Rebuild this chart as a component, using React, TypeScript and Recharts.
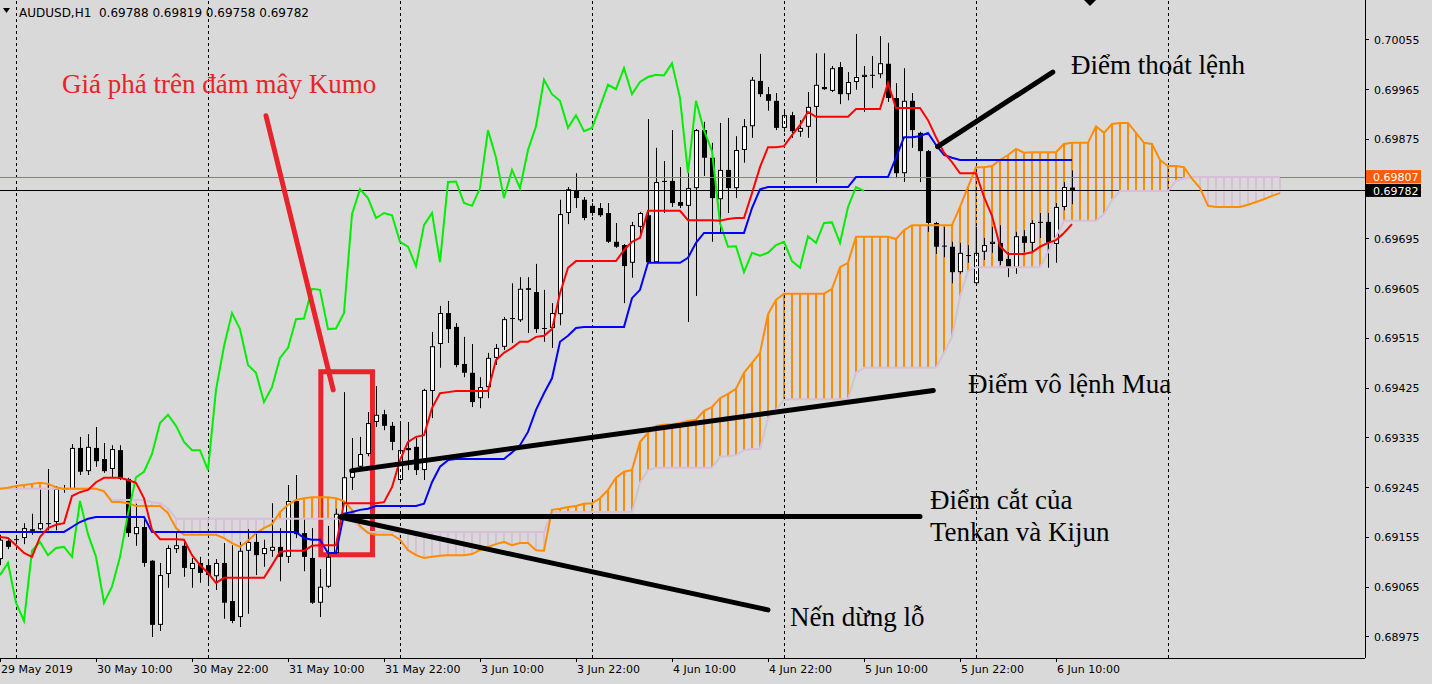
import React from "react";
import {
  Bar,
  ComposedChart,
  Line,
  ReferenceArea,
  ReferenceLine,
  XAxis,
  YAxis,
} from "recharts";

// AUDUSD H1 with Ichimoku (MT4 look). Candles + tenkan/kijun/chikou + hatched kumo,
// plus the hand-drawn trade annotations.

const opens = [
  0.69116, 0.69149, 0.69152, 0.69154, 0.6917, 0.6917, 0.69181, 0.69183, 0.69243, 0.69243,
  0.69317, 0.69275, 0.69317, 0.69297, 0.69279, 0.69313, 0.69261, 0.69161, 0.69174, 0.69113,
  0.68997, 0.69089, 0.69134, 0.6914, 0.69098, 0.69109, 0.69105, 0.69085, 0.69109, 0.6904,
  0.69011, 0.69131, 0.69147, 0.69125, 0.69131, 0.69138, 0.6912, 0.69221, 0.69163, 0.69118,
  0.69037, 0.69066, 0.69127, 0.69198, 0.69263, 0.69283, 0.69306, 0.69364, 0.69378, 0.69357,
  0.69259, 0.69317, 0.69319, 0.69277, 0.6942, 0.69505, 0.69561, 0.69536, 0.69469, 0.69453,
  0.69407, 0.69427, 0.6948, 0.695, 0.69552, 0.69548, 0.69606, 0.69599, 0.69534, 0.69534,
  0.69559, 0.69742, 0.69782, 0.69766, 0.69755, 0.69751, 0.69742, 0.6969, 0.69684, 0.69652,
  0.69717, 0.69738, 0.69653, 0.698, 0.698, 0.69762, 0.69755, 0.69787, 0.69892, 0.69842,
  0.69767, 0.6982, 0.69787, 0.69856, 0.69899, 0.69981, 0.69957, 0.69945, 0.69896, 0.69919,
  0.69889, 0.69898, 0.69934, 0.6997, 0.69963, 0.70006, 0.69957, 0.69979, 0.69988, 0.69992,
  0.69993, 0.70012, 0.6995, 0.69814, 0.69945, 0.69887, 0.69854, 0.69724, 0.69683, 0.69681,
  0.69635, 0.69666, 0.69615, 0.69672, 0.69686, 0.69688, 0.69659, 0.69643, 0.697, 0.69688,
  0.69726, 0.69726, 0.69686, 0.69753, 0.69788,
];
const highs = [
  0.6916, 0.69154, 0.69158, 0.69181, 0.69198, 0.69243, 0.69279, 0.69248, 0.6925, 0.69324,
  0.69337, 0.69342, 0.69355, 0.69326, 0.69322, 0.69322, 0.69263, 0.69216, 0.69187, 0.69114,
  0.69109, 0.69141, 0.69165, 0.69151, 0.69118, 0.6912, 0.69114, 0.69116, 0.69145, 0.69141,
  0.69147, 0.6917, 0.69165, 0.69151, 0.69217, 0.69172, 0.6925, 0.69268, 0.69189, 0.69172,
  0.69098, 0.69176, 0.69207, 0.69418, 0.69335, 0.69337, 0.69382, 0.69429, 0.69386, 0.69364,
  0.69364, 0.69364, 0.69335, 0.69424, 0.69527, 0.69574, 0.69583, 0.69543, 0.69518, 0.69505,
  0.69445, 0.69489, 0.69505, 0.69554, 0.69615, 0.69626, 0.69626, 0.6965, 0.69603, 0.69579,
  0.69766, 0.69789, 0.69814, 0.69771, 0.6976, 0.6976, 0.6976, 0.69724, 0.69686, 0.69726,
  0.69744, 0.69912, 0.6986, 0.69836, 0.69892, 0.69825, 0.6982, 0.69894, 0.69907, 0.69869,
  0.69905, 0.69914, 0.69881, 0.69912, 0.69988, 0.7003, 0.6997, 0.69959, 0.69928, 0.69925,
  0.6991, 0.69961, 0.70031, 0.70031, 0.70008, 0.70015, 0.69997, 0.70066, 0.70008, 0.70026,
  0.70062, 0.7005, 0.69977, 0.70004, 0.69959, 0.69889, 0.69856, 0.69726, 0.69717, 0.6969,
  0.69688, 0.69684, 0.69717, 0.69697, 0.69717, 0.6972, 0.69671, 0.69708, 0.69711, 0.69729,
  0.69742, 0.69742, 0.6976, 0.69798, 0.69819,
];
const lows = [
  0.69105, 0.69134, 0.69147, 0.69143, 0.6916, 0.69168, 0.69168, 0.69168, 0.69236, 0.69241,
  0.69268, 0.69268, 0.69283, 0.69272, 0.69264, 0.69259, 0.69156, 0.6914, 0.69102, 0.68975,
  0.68986, 0.69064, 0.69127, 0.69084, 0.69064, 0.69073, 0.69071, 0.6906, 0.69008, 0.69,
  0.68993, 0.69017, 0.69087, 0.69102, 0.6912, 0.69076, 0.69109, 0.69154, 0.69094, 0.69035,
  0.69011, 0.69064, 0.69125, 0.69192, 0.69241, 0.69277, 0.69302, 0.69355, 0.69349, 0.69313,
  0.69254, 0.69277, 0.69268, 0.69259, 0.69371, 0.69462, 0.69507, 0.69463, 0.69445, 0.69391,
  0.69389, 0.69407, 0.69467, 0.69494, 0.69507, 0.69545, 0.69525, 0.69525, 0.69509, 0.69498,
  0.69539, 0.69722, 0.69751, 0.69729, 0.69737, 0.69735, 0.69688, 0.69679, 0.69579, 0.69625,
  0.69699, 0.69652, 0.69652, 0.69742, 0.69753, 0.69751, 0.69545, 0.69592, 0.69809, 0.6969,
  0.69706, 0.69742, 0.69769, 0.69833, 0.69878, 0.69952, 0.69927, 0.69892, 0.69889, 0.69878,
  0.6988, 0.69878, 0.69796, 0.69965, 0.69961, 0.69939, 0.69946, 0.69965, 0.69925, 0.69968,
  0.69986, 0.69943, 0.69805, 0.69798, 0.6986, 0.69798, 0.69708, 0.69668, 0.69662, 0.69615,
  0.69632, 0.69652, 0.69612, 0.69657, 0.6967, 0.69648, 0.69626, 0.69632, 0.69671, 0.69671,
  0.69697, 0.69643, 0.69652, 0.69747, 0.69758,
];
const closes = [
  0.69151, 0.69138, 0.69151, 0.69172, 0.69167, 0.69181, 0.6918, 0.69243, 0.69242, 0.69317,
  0.69274, 0.69319, 0.69293, 0.69275, 0.69315, 0.69261, 0.69163, 0.69174, 0.69109, 0.68997,
  0.69087, 0.69136, 0.69141, 0.691, 0.69109, 0.69091, 0.69087, 0.69109, 0.69037, 0.69004,
  0.69131, 0.69147, 0.69123, 0.69136, 0.69138, 0.6912, 0.69221, 0.69161, 0.6912, 0.69037,
  0.69066, 0.6912, 0.69198, 0.69264, 0.69274, 0.69306, 0.69362, 0.69377, 0.69357, 0.69328,
  0.69313, 0.69313, 0.69277, 0.69422, 0.69501, 0.69561, 0.69532, 0.69467, 0.69453, 0.694,
  0.69427, 0.6948, 0.69498, 0.6955, 0.69551, 0.69605, 0.69603, 0.69532, 0.69533, 0.69561,
  0.6974, 0.69785, 0.69769, 0.69733, 0.69742, 0.69738, 0.6969, 0.69681, 0.69646, 0.6972,
  0.69742, 0.69653, 0.69798, 0.69799, 0.6976, 0.69755, 0.69787, 0.69892, 0.69842, 0.69769,
  0.6982, 0.69787, 0.69856, 0.69899, 0.69983, 0.69957, 0.69945, 0.69896, 0.69919, 0.6989,
  0.69896, 0.69934, 0.69974, 0.69966, 0.70004, 0.69957, 0.69979, 0.69988, 0.69992, 0.69991,
  0.70013, 0.6995, 0.69814, 0.69945, 0.69892, 0.69854, 0.69724, 0.69681, 0.69682, 0.69635,
  0.6967, 0.69665, 0.6967, 0.69684, 0.6969, 0.69655, 0.69643, 0.697, 0.69688, 0.69724,
  0.69725, 0.69688, 0.69753, 0.69789, 0.69782,
];

const tenkan = [
  0.69156, 0.69154, 0.69141, 0.69127, 0.6912, 0.69156, 0.69172, 0.69178, 0.69181, 0.6923,
  0.69237, 0.69241, 0.69255, 0.69263, 0.69263, 0.69263, 0.69259, 0.69254, 0.69226, 0.69169,
  0.69152, 0.69152, 0.69152, 0.69151, 0.69123, 0.69105, 0.69091, 0.69073, 0.69082, 0.69082,
  0.69082, 0.69082, 0.69082, 0.69082, 0.69105, 0.69129, 0.69131, 0.69131, 0.69131, 0.6914,
  0.69141, 0.69141, 0.69141, 0.69217, 0.69217, 0.69217, 0.69217, 0.69217, 0.69219, 0.69246,
  0.69295, 0.69328, 0.69337, 0.6934, 0.69389, 0.69416, 0.69418, 0.6942, 0.6942, 0.6942,
  0.6942, 0.6942, 0.69476, 0.69489, 0.69498, 0.69509, 0.69509, 0.69518, 0.6952, 0.69532,
  0.69597, 0.69643, 0.69655, 0.69655, 0.69655, 0.69655, 0.69655, 0.69655, 0.69675, 0.6969,
  0.69697, 0.69746, 0.69746, 0.69746, 0.69746, 0.69746, 0.69729, 0.69729, 0.69729, 0.69729,
  0.69728, 0.69731, 0.69733, 0.69733, 0.69778, 0.69825, 0.69861, 0.69861, 0.69863, 0.69883,
  0.69901, 0.69925, 0.69916, 0.69916, 0.69916, 0.69916, 0.69916, 0.6993, 0.6993, 0.6993,
  0.6993, 0.69977, 0.69932, 0.69932, 0.69932, 0.69932, 0.6991, 0.69879, 0.69851, 0.69834,
  0.69814, 0.69814, 0.69814, 0.69771, 0.69737, 0.69682, 0.69668, 0.69668, 0.69668, 0.69671,
  0.69681, 0.69688, 0.69693, 0.69706, 0.69722,
];
const kijun = [
  0.69165, 0.69165, 0.69165, 0.69165, 0.69165, 0.69165, 0.69165, 0.69165, 0.69165, 0.69174,
  0.69183, 0.69189, 0.69192, 0.69192, 0.69192, 0.69192, 0.69192, 0.69192, 0.69192, 0.69165,
  0.69165, 0.69165, 0.69165, 0.69165, 0.69165, 0.69165, 0.69165, 0.69165, 0.69165, 0.69165,
  0.69165, 0.69165, 0.69165, 0.69165, 0.69165, 0.69165, 0.69165, 0.69165, 0.69154, 0.69151,
  0.69151, 0.69127, 0.69127, 0.69198, 0.69201, 0.69205, 0.69207, 0.69212, 0.69212, 0.69212,
  0.69212, 0.69212, 0.69212, 0.69216, 0.69255, 0.69283, 0.69295, 0.69297, 0.69297, 0.69297,
  0.69297, 0.69297, 0.69297, 0.69297, 0.69309, 0.69322, 0.69346, 0.69386, 0.69416, 0.69443,
  0.69509, 0.6952, 0.69534, 0.69536, 0.69536, 0.69536, 0.69536, 0.69536, 0.69536, 0.69588,
  0.69603, 0.69652, 0.69652, 0.69652, 0.69652, 0.69652, 0.69661, 0.69688, 0.69706, 0.69706,
  0.69706, 0.69706, 0.69706, 0.69706, 0.69751, 0.69785, 0.69789, 0.69789, 0.69789, 0.69789,
  0.69789, 0.69789, 0.69789, 0.69789, 0.69789, 0.69789, 0.69789, 0.69807, 0.69807, 0.69807,
  0.69807, 0.69807, 0.69842, 0.69879, 0.69879, 0.69881, 0.69887, 0.69865, 0.69847, 0.69842,
  0.69838, 0.69838, 0.69838, 0.69838, 0.69838, 0.69838, 0.69838, 0.69838, 0.69838, 0.69838,
  0.69838, 0.69838, 0.69838, 0.69838, 0.69838,
];
// chikou: drawn 26 bars back
const chikou = [
  0.69087, 0.69109, 0.69037, 0.69004, 0.69131, 0.69147, 0.69123, 0.69136, 0.69138, 0.6912,
  0.69221, 0.69161, 0.6912, 0.69037, 0.69066, 0.6912, 0.69198, 0.69264, 0.69274, 0.69306,
  0.69362, 0.69377, 0.69357, 0.69328, 0.69313, 0.69313, 0.69277, 0.69422, 0.69501, 0.69561,
  0.69532, 0.69467, 0.69453, 0.694, 0.69427, 0.6948, 0.69498, 0.6955, 0.69551, 0.69605,
  0.69603, 0.69532, 0.69533, 0.69561, 0.6974, 0.69785, 0.69769, 0.69733, 0.69742, 0.69738,
  0.6969, 0.69681, 0.69646, 0.6972, 0.69742, 0.69653, 0.69798, 0.69799, 0.6976, 0.69755,
  0.69787, 0.69892, 0.69842, 0.69769, 0.6982, 0.69787, 0.69856, 0.69899, 0.69983, 0.69957,
  0.69945, 0.69896, 0.69919, 0.6989, 0.69896, 0.69934, 0.69974, 0.69966, 0.70004, 0.69957,
  0.69979, 0.69988, 0.69992, 0.69991, 0.70013, 0.6995, 0.69814, 0.69945, 0.69892, 0.69854,
  0.69724, 0.69681, 0.69682, 0.69635, 0.6967, 0.69665, 0.6967, 0.69684, 0.6969, 0.69655,
  0.69643, 0.697, 0.69688, 0.69724, 0.69725, 0.69688, 0.69753, 0.69789, 0.69782,
];
// senkou spans: drawn 26 bars ahead, so they run past the last candle
const spanA = [
  0.69243, 0.69245, 0.69248, 0.6925, 0.69252, 0.69254, 0.69252, 0.69246, 0.69243, 0.69243,
  0.69243, 0.69243, 0.69243, 0.69239, 0.69219, 0.69219, 0.69217, 0.69212, 0.69212, 0.69212,
  0.69212, 0.69199, 0.69172, 0.6916, 0.6916, 0.6916, 0.6916, 0.6916, 0.69154, 0.69145,
  0.69138, 0.69149, 0.69163, 0.69172, 0.69179, 0.69201, 0.69214, 0.69223, 0.69226, 0.69228,
  0.69228, 0.69228, 0.69226, 0.69221, 0.69205, 0.69176, 0.69163, 0.6916, 0.6916, 0.6916,
  0.69151, 0.69132, 0.69123, 0.69118, 0.6912, 0.69122, 0.69123, 0.69123, 0.69123, 0.69125,
  0.69132, 0.69138, 0.69143, 0.69147, 0.69141, 0.69145, 0.69145, 0.69132, 0.69131, 0.69205,
  0.69207, 0.6921, 0.69212, 0.69216, 0.69217, 0.69226, 0.69241, 0.69263, 0.69274, 0.69277,
  0.69328, 0.69344, 0.69357, 0.69359, 0.6936, 0.69362, 0.69366, 0.69368, 0.69384, 0.69391,
  0.69407, 0.69415, 0.69424, 0.69453, 0.69471, 0.69489, 0.69559, 0.69585, 0.69596, 0.69596,
  0.69596, 0.69596, 0.69596, 0.69596, 0.69605, 0.69644, 0.69652, 0.69699, 0.69699, 0.69699,
  0.69699, 0.69699, 0.69695, 0.69711, 0.6972, 0.6972, 0.6972, 0.6972, 0.6972, 0.6972,
  0.69753, 0.69789, 0.69825, 0.69825, 0.69827, 0.69838, 0.69847, 0.69858, 0.69851, 0.69852,
  0.69852, 0.69852, 0.69852, 0.69867, 0.69869, 0.69869, 0.69869, 0.69899, 0.69887, 0.69903,
  0.69905, 0.69905, 0.69887, 0.69869, 0.69867, 0.69838, 0.69827, 0.69827, 0.69825, 0.69804,
  0.69787, 0.69755, 0.69753, 0.69753, 0.69753, 0.69753, 0.69757, 0.69762, 0.69767, 0.69773,
  0.69778,
];
const spanB = [
  0.69243, 0.69243, 0.69243, 0.69243, 0.69243, 0.69243, 0.69243, 0.69243, 0.69243, 0.69243,
  0.69243, 0.69243, 0.69243, 0.69237, 0.69223, 0.69223, 0.69223, 0.69223, 0.69223, 0.69219,
  0.69217, 0.69208, 0.69189, 0.69189, 0.69189, 0.69189, 0.69189, 0.69189, 0.69189, 0.69189,
  0.69189, 0.69189, 0.69189, 0.69189, 0.69189, 0.69189, 0.69189, 0.69189, 0.69189, 0.69189,
  0.69189, 0.69189, 0.69189, 0.69189, 0.69189, 0.69172, 0.69165, 0.69165, 0.69165, 0.69165,
  0.69165, 0.69165, 0.69165, 0.69165, 0.69165, 0.69165, 0.69165, 0.69165, 0.69165, 0.69165,
  0.69165, 0.69165, 0.69165, 0.69165, 0.69165, 0.69165, 0.69165, 0.69165, 0.69165, 0.69201,
  0.69201, 0.69201, 0.69201, 0.69201, 0.69201, 0.69201, 0.69201, 0.69201, 0.69201, 0.69201,
  0.69254, 0.69277, 0.69281, 0.69281, 0.69281, 0.69281, 0.69281, 0.69281, 0.69281, 0.69281,
  0.69301, 0.69302, 0.69304, 0.69313, 0.69315, 0.69315, 0.69371, 0.69386, 0.69404, 0.69405,
  0.69405, 0.69405, 0.69405, 0.69405, 0.69405, 0.69405, 0.69405, 0.69453, 0.69462, 0.69462,
  0.69462, 0.69462, 0.69462, 0.69462, 0.69462, 0.69462, 0.69462, 0.69462, 0.69489, 0.69518,
  0.6959, 0.69637, 0.69644, 0.69644, 0.69644, 0.69644, 0.69644, 0.69644, 0.69644, 0.69644,
  0.69644, 0.69671, 0.69699, 0.69728, 0.69728, 0.69728, 0.69728, 0.69728, 0.6974, 0.69766,
  0.69782, 0.69782, 0.69782, 0.69782, 0.69782, 0.69782, 0.69782, 0.698, 0.69805, 0.69807,
  0.69807, 0.69807, 0.69807, 0.69807, 0.69807, 0.69807, 0.69807, 0.69807, 0.69807, 0.69807,
  0.69807,
];

// axis ticks (bar index -> label), day separators, price ticks
const labelBars = [0, 12, 24, 36, 48, 60, 72, 84, 96, 108, 120, 132];
const labelTexts = [
  "29 May 2019",
  "30 May 10:00",
  "30 May 22:00",
  "31 May 10:00",
  "31 May 22:00",
  "3 Jun 10:00",
  "3 Jun 22:00",
  "4 Jun 10:00",
  "4 Jun 22:00",
  "5 Jun 10:00",
  "5 Jun 22:00",
  "6 Jun 10:00",
];
const dayBars = [2, 26, 50, 74, 98, 122, 146];
const priceTicks = [
  0.68975, 0.69065, 0.69155, 0.69245, 0.69335, 0.69425, 0.69515, 0.69605, 0.69695, 0.69875,
  0.69965, 0.70055,
];
const ASK = 0.69807;
const BID = 0.69782;

const BG = "#d9d9d9";
const ORANGE = "#ff8c00";
const THISTLE = "#d8bfd8";
const ASK_COLOR = "#ff5a0a";
const NOTE_RED = "#e8232b";
const FONT = "DejaVu Sans, Verdana, sans-serif";
const SERIF = "Liberation Serif, Times New Roman, serif";

const X_DOMAIN = [0, 170.625];
const Y_DOMAIN = [0.6893701, 0.7012736];

const rows = spanA.map((a, i) => {
  const b = spanB[i];
  const r: any = { i, a, b, cloud: [Math.min(a, b), Math.max(a, b)] };
  if (i < opens.length) {
    r.o = opens[i];
    r.h = highs[i];
    r.l = lows[i];
    r.c = closes[i];
    r.range = [lows[i], highs[i]];
    r.tenkan = tenkan[i];
    r.kijun = kijun[i];
  }
  if (i < chikou.length) r.chikou = chikou[i];
  return r;
});

function Candle(props: any) {
  const { x, y, width, height, payload } = props;
  if (!payload || payload.o == null) return null;
  const { o, h, l, c } = payload;
  const cx = Math.round(x + width / 2);
  const py = (p: number) => (h === l ? y : y + ((h - p) / (h - l)) * height);
  const top = py(Math.max(o, c));
  const bh = Math.max(1, py(Math.min(o, c)) - top);
  return (
    <g>
      <rect x={cx} y={y} width={1} height={Math.max(1, height)} fill="#000" />
      <rect x={cx - 2} y={top} width={5} height={bh} fill="#000" />
      {c > o && bh > 2 && <rect x={cx - 1} y={top + 1} width={3} height={bh - 2} fill="#fff" />}
    </g>
  );
}

function Hatch(props: any) {
  const { x, y, width, height, payload } = props;
  if (!payload || !(height > 0)) return null;
  const cx = Math.round(x + width / 2);
  return (
    <rect
      x={cx - 1}
      y={y}
      width={2}
      height={height}
      fill={payload.a >= payload.b ? ORANGE : THISTLE}
    />
  );
}

function XTick(props: any) {
  const { x, y, payload } = props;
  const idx = labelBars.indexOf(payload.value);
  if (idx < 0) return null;
  return (
    <g>
      <line x1={x} x2={x} y1={y} y2={y + 4} stroke="#000" shapeRendering="crispEdges" />
      <text x={x + 1} y={y + 15} fontSize={11} fontFamily={FONT} fill="#000">
        {labelTexts[idx]}
      </text>
    </g>
  );
}

function YTick(props: any) {
  const { x, y, payload } = props;
  const v: number = payload.value;
  if (v === ASK || v === BID) {
    return (
      <g>
        <rect x={x + 1} y={y - 7} width={55} height={13} fill={v === ASK ? ASK_COLOR : "#000"} />
        <text x={x + 8} y={y} dy="0.36em" fontSize={11} fontFamily={FONT} fill="#fff">
          {v.toFixed(5)}
        </text>
      </g>
    );
  }
  return (
    <g>
      <line x1={x} x2={x + 4} y1={y} y2={y} stroke="#000" shapeRendering="crispEdges" />
      <text x={x + 9} y={y} dy="0.36em" fontSize={11} fontFamily={FONT} fill="#000">
        {v.toFixed(5)}
      </text>
    </g>
  );
}

const css = `
.crisp line, .recharts-cartesian-axis-line { shape-rendering: crispEdges; }
`;

export default function App() {
  return (
    <div
      style={{
        position: "absolute",
        left: 0,
        top: 0,
        width: 1432,
        height: 684,
        background: BG,
        overflow: "hidden",
      }}
    >
      <style>{css}</style>
      <ComposedChart
        width={1432}
        height={684}
        data={rows}
        margin={{ top: 0, right: 0, bottom: 0, left: 0 }}
      >
        <XAxis
          dataKey="i"
          type="number"
          domain={X_DOMAIN}
          allowDataOverflow
          ticks={labelBars}
          interval={0}
          height={26}
          tickSize={0}
          tickMargin={0}
          tickLine={false}
          axisLine={{ stroke: "#000" }}
          tick={<XTick />}
        />
        <XAxis xAxisId="k" dataKey="i" type="number" domain={X_DOMAIN} allowDataOverflow hide />
        <YAxis
          orientation="right"
          type="number"
          domain={Y_DOMAIN}
          allowDataOverflow
          ticks={[...priceTicks, ASK, BID]}
          interval={0}
          width={67}
          tickSize={0}
          tickMargin={0}
          tickLine={false}
          axisLine={{ stroke: "#000" }}
          tick={<YTick />}
        />
        <YAxis yAxisId="k" type="number" domain={Y_DOMAIN} allowDataOverflow hide />

        {dayBars.map((d) => (
          <ReferenceLine
            key={d}
            x={d}
            className="crisp"
            stroke="#000"
            strokeDasharray="3 3"
            strokeWidth={1}
          />
        ))}
        <ReferenceLine y={ASK} className="crisp" stroke={ASK_COLOR} strokeWidth={1} />
        <ReferenceLine y={BID} className="crisp" stroke="#000" strokeWidth={1} />

        <Bar
          xAxisId="k"
          yAxisId="k"
          dataKey="cloud"
          barSize={2}
          shape={<Hatch />}
          isAnimationActive={false}
        />
        <Line dataKey="b" stroke={THISTLE} strokeWidth={2} dot={false} activeDot={false} isAnimationActive={false} />
        <Line dataKey="a" stroke={ORANGE} strokeWidth={2} dot={false} activeDot={false} isAnimationActive={false} />
        <Line dataKey="chikou" stroke="#00ee00" strokeWidth={2} dot={false} activeDot={false} isAnimationActive={false} />
        <Line dataKey="kijun" stroke="#0000ff" strokeWidth={2} dot={false} activeDot={false} isAnimationActive={false} />
        <Line dataKey="tenkan" stroke="#ff0000" strokeWidth={2} dot={false} activeDot={false} isAnimationActive={false} />
        <Bar dataKey="range" barSize={5} shape={<Candle />} isAnimationActive={false} />

        {/* trade notes */}
        <ReferenceArea
          x1={40.1}
          x2={46.56}
          y1={0.69124}
          y2={0.69455}
          fill="none"
          stroke={NOTE_RED}
          strokeWidth={5}
        />
        <ReferenceLine
          segment={[{ x: 33.25, y: 0.69918 }, { x: 41.65, y: 0.69422 }]}
          stroke={NOTE_RED}
          strokeWidth={5}
          strokeLinecap="round"
        />
        <ReferenceLine
          segment={[{ x: 117.2, y: 0.69862 }, { x: 131.6, y: 0.69997 }]}
          stroke="#000"
          strokeWidth={5}
          strokeLinecap="round"
        />
        <ReferenceLine
          segment={[{ x: 43.96, y: 0.69276 }, { x: 116.66, y: 0.69421 }]}
          stroke="#000"
          strokeWidth={5}
          strokeLinecap="round"
        />
        <ReferenceLine
          segment={[{ x: 42.7, y: 0.69193 }, { x: 115, y: 0.69193 }]}
          stroke="#000"
          strokeWidth={5}
          strokeLinecap="round"
        />
        <ReferenceLine
          segment={[{ x: 42.5, y: 0.69192 }, { x: 96, y: 0.69024 }]}
          stroke="#000"
          strokeWidth={5}
          strokeLinecap="round"
        />
      </ComposedChart>

      <svg
        width={1432}
        height={684}
        style={{ position: "absolute", left: 0, top: 0, pointerEvents: "none" }}
      >
        <polygon points="3,8 10,8 6.5,13" fill="#000" />
        <text x={19} y={17} fontSize={12} fontFamily={FONT} fill="#000" style={{ whiteSpace: "pre" }}>
          {"AUDUSD,H1  0.69788 0.69819 0.69758 0.69782"}
        </text>
        <polygon points="1084,0 1096,0 1090,6" fill="#000" />
        <g fontFamily={SERIF} fontSize={27}>
          <text x={62} y={93} fill={NOTE_RED}>Giá phá trên đám mây Kumo</text>
          <text x={1071} y={74} fill="#000">Điểm thoát lệnh</text>
          <text x={968} y={393} fill="#000">Điểm vô lệnh Mua</text>
          <text x={930} y={509} fill="#000">Điểm cắt của</text>
          <text x={930} y={541} fill="#000">Tenkan và Kijun</text>
          <text x={790} y={626} fill="#000">Nến dừng lỗ</text>
        </g>
      </svg>
    </div>
  );
}
